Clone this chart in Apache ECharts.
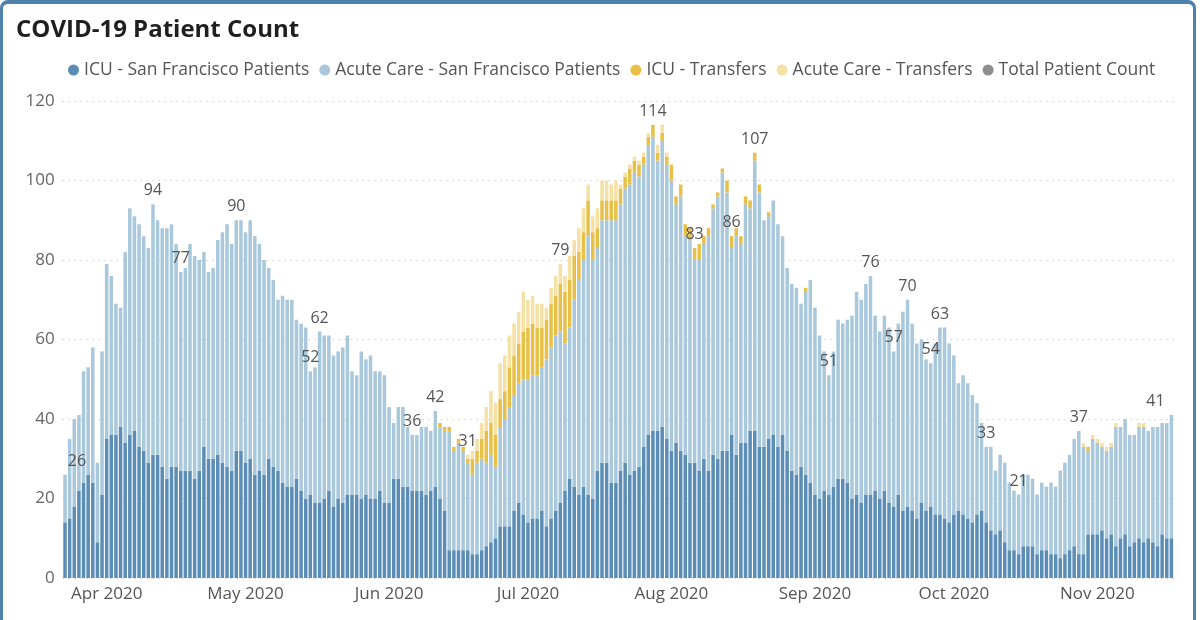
<!DOCTYPE html>
<html>
<head>
<meta charset="utf-8">
<script src="https://cdn.jsdelivr.net/npm/echarts@6/dist/echarts.min.js"></script>
<style>
  html, body { margin: 0; padding: 0; background: #fff; }
  #frame { position: absolute; left: 0; top: 0; width: 1196px; height: 640px; border: 3px solid #4f81ad; border-top-width: 4px; border-radius: 8px; box-sizing: border-box; }
  #chart { position: absolute; left: 0; top: 0; width: 1200px; height: 620px; }
</style>
</head>
<body>
<div id="chart"></div>
<div id="frame"></div>
<script>
// ---- data (one bar per day, starting 2020-03-23) ----
const startDate = '2020-03-23';
const dayCount = 240;

const icuSF = [
  14,15,18,22,24,26,24,9,21,35,
  36,36,38,34,36,37,33,32,29,31,
  31,28,25,28,28,27,27,27,25,27,
  33,30,30,31,29,28,27,32,32,29,
  30,26,27,26,30,28,27,24,23,23,
  25,22,20,21,19,19,20,22,18,20,
  19,21,21,21,20,21,20,20,22,19,
  19,25,25,23,23,22,22,22,21,22,
  23,20,17,7,7,7,7,7,6,6,
  7,8,9,10,13,13,13,17,19,16,
  14,15,15,17,13,15,17,19,22,25,
  23,21,23,21,20,27,29,29,24,24,
  27,29,26,27,28,33,36,37,37,38,
  35,32,34,32,31,29,29,27,30,27,
  31,30,32,32,36,31,34,34,37,37,
  33,33,35,36,33,36,32,27,26,28,
  26,24,21,20,22,21,23,25,25,24,
  20,21,19,21,21,22,20,22,19,18,
  21,17,18,17,15,19,17,18,16,16,
  15,14,16,17,16,15,14,16,17,14,
  12,11,12,9,7,7,6,8,8,8,
  6,7,7,6,6,5,6,7,8,6,
  6,11,11,11,12,10,11,8,10,11,
  8,9,10,9,10,9,8,11,10,10
];

const acuteSF = [
  12,20,22,19,28,27,34,20,36,44,
  40,33,30,48,57,54,56,54,54,63,
  59,60,63,61,56,50,51,57,56,53,
  49,47,48,54,58,61,57,58,58,58,
  60,60,57,54,48,47,43,47,47,47,
  40,42,43,31,34,43,41,39,38,37,
  39,40,31,30,37,34,36,32,30,32,
  24,14,18,20,15,14,14,16,17,15,
  19,18,20,30,25,27,25,22,20,23,
  23,21,22,18,25,27,30,29,30,34,
  36,36,36,36,42,43,44,43,37,38,
  47,54,57,65,60,56,61,61,66,66,
  67,69,73,75,73,71,73,74,68,72,
  69,68,60,64,55,56,51,53,54,59,
  62,66,70,65,47,55,50,60,56,68,
  64,57,56,59,56,50,46,47,47,41,
  46,51,47,41,35,30,34,40,39,41,
  46,51,51,53,55,44,42,44,44,39,
  43,50,52,47,44,41,38,36,43,47,
  48,45,40,32,35,34,32,28,22,19,
  21,16,19,20,17,15,15,18,18,17,
  15,17,16,18,17,22,23,24,27,31,
  27,21,24,23,21,22,22,30,28,29,
  28,27,28,29,27,29,30,28,29,31
];

const icuTransfers = [
  0,0,0,0,0,0,0,0,0,0,
  0,0,0,0,0,0,0,0,0,0,
  0,0,0,0,0,0,0,0,0,0,
  0,0,0,0,0,0,0,0,0,0,
  0,0,0,0,0,0,0,0,0,0,
  0,0,0,0,0,0,0,0,0,0,
  0,0,0,0,0,0,0,0,0,0,
  0,0,0,0,0,0,0,0,0,0,
  0,1,1,1,1,1,1,1,4,3,
  5,8,8,8,7,7,10,10,10,12,
  13,13,12,10,10,11,10,12,13,12,
  11,7,7,9,7,5,5,5,5,5,
  4,3,4,3,3,2,2,3,2,2,
  2,4,2,3,3,3,3,4,2,2,
  1,1,1,3,3,2,2,2,2,2,
  2,0,1,0,0,0,0,0,0,0,
  1,0,0,0,0,0,0,0,0,0,
  0,0,0,0,0,0,0,0,0,0,
  0,0,0,0,0,0,0,0,0,0,
  0,0,0,0,0,0,0,0,0,0,
  0,0,0,0,0,0,0,0,0,0,
  0,0,0,0,0,0,0,0,0,0,
  0,1,0,0,0,0,0,0,0,0,
  0,0,0,0,0,0,0,0,0,0
];

const acuteTransfers = [
  0,0,0,0,0,0,0,0,0,0,
  0,0,0,0,0,0,0,0,0,0,
  0,0,0,0,0,0,0,0,0,0,
  0,0,0,0,0,0,0,0,0,0,
  0,0,0,0,0,0,0,0,0,0,
  0,0,0,0,0,0,0,0,0,0,
  0,0,0,0,0,0,0,0,0,0,
  0,0,0,0,0,0,0,0,0,0,
  0,0,0,0,0,0,0,1,2,3,
  4,6,8,8,9,9,8,8,8,10,
  7,7,6,6,3,4,5,5,4,6,
  4,6,6,4,4,5,5,5,4,5,
  1,1,1,1,1,1,1,0,2,2,
  1,0,0,0,0,0,0,0,0,0,
  0,0,0,0,0,0,0,0,0,0,
  0,0,0,0,0,0,0,0,0,0,
  0,0,0,0,0,0,0,0,0,0,
  0,0,0,0,0,0,0,0,0,0,
  0,0,0,0,0,0,0,0,0,0,
  0,0,0,0,0,0,0,0,0,0,
  0,0,0,0,0,0,0,0,0,0,
  0,0,0,0,0,0,0,0,0,0,
  1,0,1,1,1,1,1,1,0,0,
  0,0,1,1,0,0,0,0,0,0
];

// indices of days whose total is labelled
const labelIdx = [0,19,25,37,53,55,75,80,87,107,127,136,144,149,165,174,179,182,187,189,199,206,219,239];

const seriesNames = ['ICU - San Francisco Patients','Acute Care - San Francisco Patients','ICU - Transfers','Acute Care - Transfers','Total Patient Count'];
const colors = ['#5b8db7','#a9c8dc','#e9c047','#f5e1a6','#8f8f8f'];
const monthNames = ['Jan','Feb','Mar','Apr','May','Jun','Jul','Aug','Sep','Oct','Nov','Dec'];

// ---- build ----
const startMs = Date.parse(startDate + 'T00:00:00Z');
const categories = [];
for (let i = 0; i < dayCount; i++) categories.push(new Date(startMs + i * 86400000).toISOString().slice(0, 10));
const totals = categories.map((_, i) => icuSF[i] + acuteSF[i] + icuTransfers[i] + acuteTransfers[i]);

const FONT = "'Segoe UI', 'Open Sans', sans-serif";

const totalData = totals.map((v, i) => {
  if (labelIdx.indexOf(i) < 0) return v;
  const lab = { show: true };
  if (i === 0) lab.offset = [12, 0];
  if (i === dayCount - 1) lab.offset = [-16, 0];
  return { value: v, label: lab };
});

function barSeries(k, data) {
  return {
    name: seriesNames[k], type: 'bar', stack: 'total', data: data,
    barCategoryGap: '24%', itemStyle: { color: colors[k] },
    emphasis: { disabled: true }, animation: false
  };
}

const chart = echarts.init(document.getElementById('chart'), null, { renderer: 'canvas' });
chart.setOption({
  animation: false,
  backgroundColor: '#ffffff',
  color: colors,
  title: {
    text: 'COVID-19 Patient Count', left: 11, top: 13,
    textStyle: { fontFamily: FONT, fontSize: 24, fontWeight: 'bold', color: '#1f1f1f' }
  },
  legend: {
    left: 63, top: 56, icon: 'circle', itemWidth: 11, itemHeight: 11, itemGap: 10,
    textStyle: { fontFamily: FONT, fontSize: 17.5, color: '#555' },
    data: seriesNames.map((n, k) => ({ name: n, itemStyle: { color: colors[k], opacity: 1 } }))
  },
  grid: { left: 62.7, right: 26.3, top: 101, bottom: 42 },
  xAxis: {
    type: 'category', data: categories,
    axisLine: { show: false }, axisTick: { show: false },
    axisLabel: {
      interval: (idx, val) => val.slice(8, 10) === '01',
      formatter: v => monthNames[parseInt(v.slice(5, 7), 10) - 1] + ' ' + v.slice(0, 4),
      fontFamily: FONT, fontSize: 17, color: '#555', margin: 8
    }
  },
  yAxis: {
    type: 'value', min: 0, max: 120, interval: 20,
    axisLine: { show: false }, axisTick: { show: false },
    axisLabel: { fontFamily: FONT, fontSize: 17, color: '#666', margin: 8 },
    splitLine: { lineStyle: { type: [1, 5], color: '#bdbdbd', width: 1 } }
  },
  series: [
    barSeries(0, icuSF),
    barSeries(1, acuteSF),
    barSeries(2, icuTransfers),
    barSeries(3, acuteTransfers),
    {
      name: seriesNames[4], type: 'line', data: totalData,
      symbol: 'circle', symbolSize: 1, showSymbol: true,
      itemStyle: { color: colors[4], opacity: 0 },
      lineStyle: { opacity: 0, width: 0 },
      label: { show: false, position: 'top', distance: 5, fontFamily: FONT, fontSize: 16, color: '#555', opacity: 1 },
      emphasis: { disabled: true }, z: 10, animation: false, silent: true
    }
  ]
});
</script>
</body>
</html>
